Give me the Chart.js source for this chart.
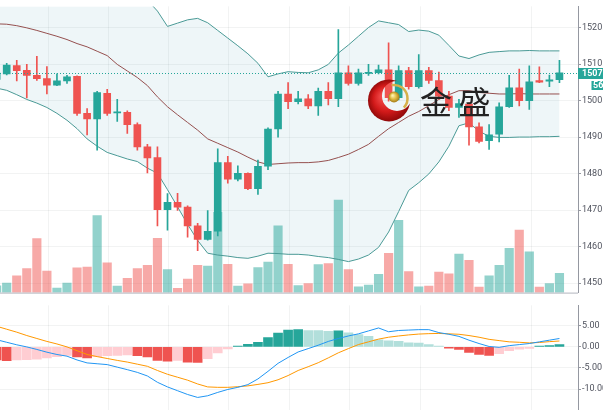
<!DOCTYPE html>
<html><head><meta charset="utf-8">
<script src="https://cdn.jsdelivr.net/npm/chart.js@4.4.1/dist/chart.umd.min.js"></script>
<style>
html,body{margin:0;padding:0;background:#fff;overflow:hidden;width:603px;height:410px;}
#wrap{position:relative;width:603px;height:410px;overflow:hidden;background:#fff;}
#c1{position:absolute;left:0;top:0;}
#c2{position:absolute;left:0;top:299px;}
</style></head><body>
<div id="wrap">
<canvas id="c1" width="640" height="299"></canvas>
<canvas id="c2" width="640" height="131"></canvas>
</div>
<script>
// ---- data (index 0 = partially visible bar at the left edge) ----
const opens  = [1505.8,1507.3,1509.6,1508.3,1506.9,1506.0,1504.2,1505.4,1506.6,1496.5,1495.0,1502.0,1496.6,1496.8,1493.4,1487.3,1484.4,1470.1,1472.1,1470.8,1465.7,1462.0,1464.2,1483.0,1478.5,1480.1,1475.9,1482.0,1492.2,1501.8,1499.7,1500.5,1498.5,1502.5,1500.5,1507.6,1504.7,1507.4,1507.6,1508.4,1500.8,1508.2,1503.8,1508.2,1505.5,1501.2,1498.1,1499.0,1492.8,1489.0,1490.8,1498.3,1503.5,1500.0,1505.5,1505.3,1505.7];
const highs  = [1508.5,1510.2,1511.0,1509.9,1512.1,1509.3,1507.3,1506.9,1506.8,1497.8,1502.5,1503.1,1500.3,1497.2,1493.9,1488.0,1487.3,1474.5,1474.6,1471.2,1466.4,1469.9,1486.8,1484.7,1482.1,1480.2,1483.7,1492.5,1502.5,1504.9,1502.5,1501.6,1503.4,1504.9,1519.4,1509.5,1508.6,1509.9,1509.7,1515.8,1509.5,1509.1,1512.6,1509.1,1507.8,1502.5,1500.3,1499.4,1493.9,1493.4,1499.4,1506.9,1508.6,1509.5,1509.2,1507.0,1511.0];
const lows   = [1505.2,1507.0,1505.4,1500.7,1505.5,1501.8,1504.1,1504.7,1495.9,1490.6,1486.4,1495.9,1494.3,1491.0,1486.4,1480.2,1465.7,1464.5,1469.9,1462.6,1458.9,1461.8,1462.9,1477.4,1478.0,1475.6,1474.3,1481.1,1490.0,1497.8,1499.1,1497.8,1495.9,1498.8,1498.3,1504.2,1504.2,1506.9,1507.3,1499.8,1500.2,1503.1,1503.4,1504.7,1500.4,1497.2,1495.4,1487.8,1488.4,1486.6,1488.7,1498.1,1498.5,1497.6,1504.9,1503.8,1504.9];
const closes = [1507.5,1509.7,1508.2,1506.9,1506.0,1504.2,1505.4,1506.5,1496.5,1495.0,1502.2,1496.5,1496.9,1493.4,1487.3,1484.3,1470.1,1472.1,1470.8,1465.7,1462.0,1464.2,1483.0,1478.5,1480.1,1475.9,1482.0,1492.2,1501.8,1499.7,1500.5,1498.5,1502.5,1500.5,1507.6,1504.7,1507.6,1507.7,1508.4,1500.8,1508.2,1503.8,1508.2,1505.5,1501.2,1498.1,1499.2,1492.8,1488.8,1490.6,1498.3,1503.5,1500.0,1505.1,1505.0,1505.7,1507.6];
const volumes = [70,100,174,250,560,224,47,100,257,264,800,310,67,147,250,284,563,240,44,140,282,274,834,294,67,90,260,317,694,294,74,94,290,300,960,240,60,77,190,407,750,217,60,67,214,194,400,334,57,174,284,460,650,424,57,94,200];
const bbUpper = [1538.7,1538.9,1539.4,1539.5,1539.1,1538.7,1538.7,1538.8,1539.0,1539.9,1539.5,1538.9,1535.0,1532.2,1529.2,1527.5,1524.5,1520.3,1521.2,1522.1,1522.5,1521.3,1519.2,1517.1,1515.0,1512.8,1510.2,1506.5,1507.3,1507.9,1507.7,1507.6,1508.4,1509.9,1513.0,1515.2,1517.6,1520.0,1521.8,1521.3,1520.8,1518.9,1519.3,1519.0,1517.9,1515.1,1512.2,1511.5,1512.5,1513.2,1513.4,1513.6,1513.6,1513.7,1513.6,1513.6,1513.6];
const bbMid   = [1521.0,1520.9,1520.5,1519.9,1519.2,1518.4,1517.6,1516.7,1515.6,1514.7,1513.5,1512.3,1509.9,1508.1,1506.3,1504.1,1501.0,1498.3,1496.1,1494.0,1491.9,1489.5,1488.3,1487.1,1485.9,1484.5,1483.2,1482.5,1482.7,1482.9,1483.0,1483.0,1483.2,1483.6,1484.4,1485.3,1486.6,1488.0,1490.2,1492.3,1494.0,1495.7,1497.0,1498.6,1500.3,1501.6,1502.7,1502.7,1502.2,1502.0,1501.8,1501.8,1501.9,1501.8,1501.8,1501.8,1501.8];
const bbLower = [1503.4,1502.8,1501.6,1500.3,1499.3,1498.1,1496.5,1494.6,1492.3,1489.5,1487.5,1485.8,1484.9,1484.0,1483.3,1481.5,1480.1,1475.6,1470.9,1466.1,1461.7,1458.2,1457.7,1457.4,1457.0,1456.8,1457.4,1458.2,1458.1,1457.9,1457.9,1457.7,1457.3,1457.0,1456.5,1455.9,1456.6,1457.7,1459.8,1464.0,1469.6,1475.4,1477.5,1479.9,1483.2,1487.5,1493.1,1493.9,1491.6,1490.2,1489.9,1489.9,1490.0,1490.0,1490.1,1490.1,1490.2];
const macdLine   = [1.7,1.1,0.5,0.0,-0.6,-1.25,-1.8,-2.2,-3.1,-3.8,-4.0,-4.2,-4.8,-5.4,-6.05,-6.9,-8.4,-9.5,-10.4,-11.3,-12.0,-11.6,-10.8,-10.1,-9.6,-8.95,-7.6,-5.8,-3.9,-2.5,-1.2,-0.4,0.4,1.3,2.0,2.6,3.1,3.8,4.5,3.6,3.9,4.0,4.1,4.1,3.4,3.0,2.5,1.6,0.8,0.1,-0.1,0.3,0.55,0.8,1.2,1.6,2.0];
const signalLine = [4.9,4.2,3.5,2.7,2.0,1.3,0.7,0.0,-0.9,-1.8,-2.3,-2.75,-3.2,-3.6,-4.1,-4.6,-5.6,-6.5,-7.2,-7.9,-8.8,-9.5,-9.6,-9.6,-9.45,-9.25,-8.9,-8.5,-7.8,-6.8,-5.6,-4.7,-3.75,-2.6,-1.4,-0.4,0.56,1.2,1.85,2.3,2.6,2.85,3.05,3.15,3.2,3.1,3.0,2.7,2.3,1.8,1.5,1.2,1.1,0.95,1.05,1.25,1.4];
const macdHist   = [-3.1,-3.25,-3.1,-3.0,-2.9,-2.6,-2.3,-2.0,-2.4,-2.6,-2.3,-2.1,-2.0,-1.9,-2.1,-2.4,-3.2,-3.4,-3.2,-3.6,-3.7,-2.8,-1.4,-0.5,0.2,0.6,1.1,2.2,3.3,4.0,4.1,3.9,3.85,3.7,3.8,3.35,2.9,2.5,1.7,1.45,1.3,0.95,0.9,0.55,0.2,-0.3,-0.6,-1.3,-1.8,-2.0,-1.6,-0.9,-0.55,-0.35,0.2,0.3,0.55];
const priceTicks = [1450,1460,1470,1480,1490,1500,1510,1520];
const macdTicks  = [5,0,-5,-10];
const timeGrid   = [5.2,11.1,17.1,23.1,29.1,35.15,42.2,53.2];
const countdown  = '56:27';
const watermark  = ['金','盛'];

// ---- styles ----
const UP='#26a69a', DOWN='#ef5350';
const VOL_UP='rgba(38,166,154,0.5)', VOL_DOWN='rgba(239,83,80,0.5)';
const GRID='rgba(42,46,57,0.06)';
const AXIS='#9598a1';
const TXT='#50535e';
const TICKFONT={family:'Roboto',size:9};
const idx = closes.map((_,k)=>k);
const isUp = k => closes[k] >= opens[k];

const xAxis = () => ({
  type:'linear', min:0.3333, max:57.846, offset:false,
  ticks:{display:false, autoSkip:false},
  grid:{color:GRID, drawTicks:false, offset:false},
  border:{display:false},
  afterBuildTicks:s=>{ s.ticks = timeGrid.map(v=>({value:v})); }
});
const fixWidth = s => { s.width = 62; };

const overlay = {
  id:'overlay',
  afterDatasetsDraw(chart){
    const ctx=chart.ctx, a=chart.chartArea, y=chart.scales.y;
    const py = Math.round(y.getPixelForValue(closes[closes.length-1]))+0.5;
    ctx.save();
    ctx.strokeStyle=UP; ctx.lineWidth=1; ctx.setLineDash([1,2]);
    ctx.beginPath(); ctx.moveTo(a.left,py); ctx.lineTo(a.right,py); ctx.stroke();
    ctx.restore();
    // logo
    const cx=a.left+a.width*0.673, cy=a.top+94;
    ctx.save();
    ctx.beginPath(); ctx.rect(cx-40,cy-40,80,80); ctx.arc(cx+8,cy-4.5,15,0,Math.PI*2);
    ctx.clip('evenodd');
    const g=ctx.createRadialGradient(cx-6,cy-4,2,cx,cy,22);
    g.addColorStop(0,'#f24a4a'); g.addColorStop(0.55,'#d31a1a'); g.addColorStop(1,'#8a0707');
    ctx.fillStyle=g; ctx.beginPath(); ctx.arc(cx,cy,21,0,Math.PI*2); ctx.fill();
    ctx.restore();
    ctx.save();
    ctx.strokeStyle='#d6b04a'; ctx.lineWidth=2.5;
    ctx.beginPath(); ctx.arc(cx+5,cy-2,13.5,-1.75,0.75); ctx.stroke();
    const b=ctx.createRadialGradient(cx+3.5,cy-5,0.5,cx+5,cy-3.5,5.5);
    b.addColorStop(0,'#fff3b0'); b.addColorStop(0.5,'#e0bc45'); b.addColorStop(1,'#a57d18');
    ctx.fillStyle=b; ctx.beginPath(); ctx.arc(cx+5,cy-3.5,5.5,0,Math.PI*2); ctx.fill();
    // watermark text
    ctx.fillStyle='#222'; ctx.font='32px "Noto Sans CJK SC"';
    ctx.textBaseline='middle'; ctx.textAlign='left';
    ctx.fillText(watermark[0], cx+31, cy+1);
    ctx.fillText(watermark[1], cx+69.5, cy+1);
    ctx.restore();
  },
  afterDraw(chart){
    const ctx=chart.ctx, a=chart.chartArea, y=chart.scales.y;
    const last=closes[closes.length-1];
    const py=Math.round(y.getPixelForValue(last));
    ctx.save();
    ctx.fillStyle=UP;
    ctx.fillRect(a.right, py-5, 70, 11);
    ctx.fillRect(a.right+13.5, py+8, 60, 9);
    ctx.fillStyle='#fff'; ctx.font='bold 9px Roboto'; ctx.textBaseline='middle'; ctx.textAlign='left';
    ctx.fillText(last.toFixed(2), a.right+4, py+0.5);
    ctx.fillText(countdown, a.right+15, py+12.5);
    // pane separator
    ctx.strokeStyle='#b2b5be'; ctx.lineWidth=1;
    ctx.beginPath(); ctx.moveTo(0,a.bottom+0.5); ctx.lineTo(a.right,a.bottom+0.5); ctx.stroke();
    ctx.restore();
  }
};

new Chart(document.getElementById('c1'), {
  type:'bar',
  data:{datasets:[
    {type:'line', data:idx.map(k=>({x:k,y:bbUpper[k]})), borderWidth:0, pointRadius:0, fill:'+1', backgroundColor:'rgba(40,140,170,0.08)', order:10},
    {type:'line', data:idx.map(k=>({x:k,y:bbLower[k]})), borderWidth:0, pointRadius:0, fill:false, order:10},
    {type:'bar', yAxisID:'yv', data:idx.map(k=>({x:k,y:volumes[k]})), backgroundColor:idx.map(k=>isUp(k)?VOL_UP:VOL_DOWN), barThickness:8.5, grouped:false, order:8},
    {type:'line', data:idx.map(k=>({x:k,y:bbUpper[k]})), borderColor:'#4a9a96', borderWidth:1, pointRadius:0, fill:false, order:5},
    {type:'line', data:idx.map(k=>({x:k,y:bbLower[k]})), borderColor:'#4a9a96', borderWidth:1, pointRadius:0, fill:false, order:5},
    {type:'line', data:idx.map(k=>({x:k,y:bbMid[k]})), borderColor:'#95504f', borderWidth:1, pointRadius:0, fill:false, order:5},
    {type:'bar', data:idx.map(k=>({x:k,y:[lows[k],highs[k]]})), backgroundColor:idx.map(k=>isUp(k)?UP:DOWN), barThickness:1, grouped:false, order:2},
    {type:'bar', data:idx.map(k=>({x:k,y:[Math.min(opens[k],closes[k]),Math.max(opens[k],closes[k])]})), backgroundColor:idx.map(k=>isUp(k)?UP:DOWN), barThickness:7, minBarLength:1, grouped:false, order:1}
  ]},
  options:{
    responsive:false, animation:false, events:[],
    layout:{padding:{left:0,right:0,top:0,bottom:2}},
    plugins:{legend:{display:false}, tooltip:{enabled:false}},
    scales:{
      x:xAxis(),
      y:{type:'linear', position:'right', min:1447.414, max:1525.778, beginAtZero:false,
         afterBuildTicks:s=>{ s.ticks=priceTicks.map(v=>({value:v})); },
         afterFit:fixWidth,
         ticks:{color:TXT, font:TICKFONT, padding:1, callback:v=>Number(v).toFixed(2)},
         grid:{color:GRID, tickColor:AXIS, tickLength:3},
         border:{display:true, color:AXIS, width:1}},
      yv:{type:'linear', display:false, min:0, max:2970}
    }
  },
  plugins:[overlay]
});

new Chart(document.getElementById('c2'), {
  type:'bar',
  data:{datasets:[
    {type:'bar', data:idx.map(k=>({x:k,y:macdHist[k]})),
     backgroundColor:idx.map(k=>{const v=macdHist[k], p=k>0?macdHist[k-1]:Infinity; return v>=0 ? (v>=p?'#26a69a':'#b2dfdb') : (v<p?'#ef5350':'#ffcdd2');}),
     barThickness:9, grouped:false, order:3},
    {type:'line', data:idx.map(k=>({x:k,y:macdLine[k]})), borderColor:'#2196f3', borderWidth:1, pointRadius:0, fill:false, order:1},
    {type:'line', data:idx.map(k=>({x:k,y:signalLine[k]})), borderColor:'#ff9800', borderWidth:1, pointRadius:0, fill:false, order:2}
  ]},
  options:{
    responsive:false, animation:false, events:[],
    layout:{padding:0},
    plugins:{legend:{display:false}, tooltip:{enabled:false}},
    scales:{
      x:xAxis(),
      y:{type:'linear', position:'right', min:-18.21, max:9.857, beginAtZero:false,
         afterBuildTicks:s=>{ s.ticks=macdTicks.map(v=>({value:v})); },
         afterFit:fixWidth,
         ticks:{color:TXT, font:TICKFONT, padding:1, callback:v=>Number(v).toFixed(2)},
         grid:{color:GRID, tickColor:AXIS, tickLength:3},
         border:{display:true, color:AXIS, width:1}}
    }
  }
});
</script>
</body></html>
